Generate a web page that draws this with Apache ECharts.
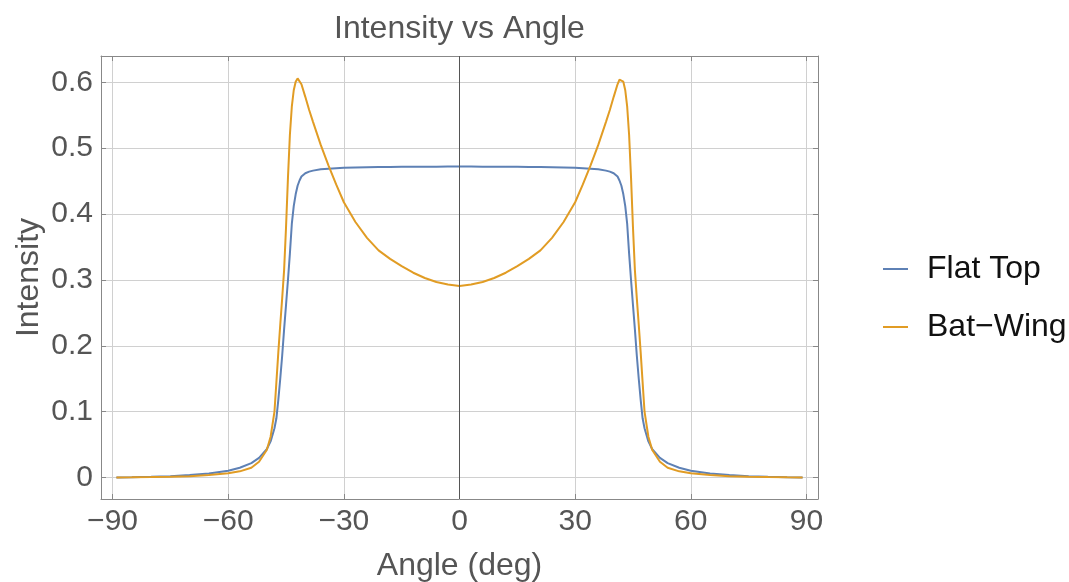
<!DOCTYPE html>
<html>
<head>
<meta charset="utf-8">
<title>Intensity vs Angle</title>
<script src="https://cdn.jsdelivr.net/npm/echarts@6/dist/echarts.min.js"></script>
<style>
  html, body { margin: 0; padding: 0; background: #fff; }
  #chart { width: 1069px; height: 582px; }
</style>
</head>
<body>
<div id="chart"></div>
<script>
// angle (deg)
const angles = [-89, -85, -80, -75, -70, -65, -60, -57, -54, -52, -50, -49, -48, -47.5, -47, -46.5, -46, -45.5, -45, -44.5, -44, -43.5, -43, -42.5, -42, -41.5, -41, -40, -39, -38, -36, -34, -32, -30, -27, -24, -21, -18, -15, -12, -9, -6, -3, 0,
  3, 6, 9, 12, 15, 18, 21, 24, 27, 30, 32, 34, 36, 38, 39, 40, 41, 41.5, 42, 42.5, 43, 43.5, 44, 44.5, 45, 45.5, 46, 46.5, 47, 47.5, 48, 49, 50, 52, 54, 57, 60, 65, 70, 75, 80, 85, 89]

const flatTop = [0.0003, 0.0007, 0.0013, 0.0022, 0.0038, 0.0062, 0.0105, 0.0150, 0.0220, 0.0300, 0.0430, 0.0550, 0.0750, 0.0900, 0.1180, 0.1500, 0.1850, 0.2250, 0.2620, 0.3000, 0.3400, 0.3850, 0.4120, 0.4300, 0.4430, 0.4510, 0.4570, 0.4620, 0.4645, 0.4660, 0.4680, 0.4690, 0.4697, 0.4702, 0.4707, 0.4711, 0.4714, 0.4716, 0.4718, 0.4719, 0.4720, 0.4720, 0.4721, 0.4721,
  0.4721, 0.4720, 0.4720, 0.4719, 0.4718, 0.4716, 0.4714, 0.4711, 0.4707, 0.4702, 0.4697, 0.4690, 0.4680, 0.4660, 0.4645, 0.4620, 0.4570, 0.4510, 0.4430, 0.4300, 0.4120, 0.3850, 0.3400, 0.3000, 0.2620, 0.2250, 0.1850, 0.1500, 0.1180, 0.0900, 0.0750, 0.0550, 0.0430, 0.0300, 0.0220, 0.0150, 0.0105, 0.0062, 0.0038, 0.0022, 0.0013, 0.0007, 0.0003]

const batWing = [0.0002, 0.0004, 0.0008, 0.0013, 0.0022, 0.0040, 0.0065, 0.0095, 0.0150, 0.0240, 0.0420, 0.0620, 0.1000, 0.1450, 0.1900, 0.2320, 0.2720, 0.3150, 0.3800, 0.4550, 0.5200, 0.5630, 0.5880, 0.6010, 0.6060, 0.6040, 0.5970, 0.5780, 0.5580, 0.5400, 0.5050, 0.4740, 0.4450, 0.4180, 0.3880, 0.3640, 0.3450, 0.3320, 0.3210, 0.3110, 0.3030, 0.2970, 0.2930, 0.2910,
  0.2930, 0.2970, 0.3030, 0.3110, 0.3210, 0.3320, 0.3450, 0.3640, 0.3880, 0.4180, 0.4450, 0.4740, 0.5050, 0.5400, 0.5580, 0.5780, 0.5970, 0.6040, 0.6060, 0.6010, 0.5880, 0.5630, 0.5200, 0.4550, 0.3800, 0.3150, 0.2720, 0.2320, 0.1900, 0.1450, 0.1000, 0.0620, 0.0420, 0.0240, 0.0150, 0.0095, 0.0065, 0.0040, 0.0022, 0.0013, 0.0008, 0.0004, 0.0002]

const xTicks = [-90, -60, -30, 0, 30, 60, 90]
const yTicks = [0, 0.1, 0.2, 0.3, 0.4, 0.5, 0.6]

const frameColor = '#888'
const gridColor = '#d0d0d0'
const textColor = '#555'
const font = 'Liberation Sans, Arial, sans-serif'

const chart = echarts.init(document.getElementById('chart'))

function pairs(ys) {
  return angles.map((a, i) => [a, ys[i]])
}

function frameAxis(extra) {
  return Object.assign({
    type: 'value',
    axisLine: { show: true, onZero: false, lineStyle: { color: frameColor, width: 1 } },
    axisTick: { show: true, inside: true, length: 5, lineStyle: { color: frameColor } },
    splitLine: { show: false }
  }, extra)
}

const option = {
  animation: false,
  title: {
    text: 'Intensity vs Angle',
    left: 334,
    top: 13,
    padding: 0,
    textStyle: { fontFamily: font, fontSize: 32, fontWeight: 'normal', color: textColor }
  },
  legend: {
    orient: 'vertical',
    left: 883,
    top: 253,
    icon: 'rect',
    itemWidth: 25,
    itemHeight: 2,
    itemGap: 26,
    padding: 0,
    textStyle: { fontFamily: font, fontSize: 32, color: '#111', padding: [0, 0, 0, 14] },
    data: ['Flat Top', 'Bat\u2212Wing']
  },
  grid: { left: 101, right: 251, top: 56, bottom: 83, outerBoundsMode: 'none' },
  xAxis: [
    frameAxis({
      min: -93,
      max: 93,
      position: 'bottom',
      name: 'Angle (deg)',
      nameLocation: 'middle',
      nameGap: 51,
      nameTextStyle: { fontFamily: font, fontSize: 32, color: textColor },
      axisTick: { show: true, inside: true, length: 5, customValues: xTicks, lineStyle: { color: frameColor } },
      axisLabel: {
        customValues: xTicks,
        margin: 8,
        fontFamily: font,
        fontSize: 30,
        color: textColor,
        formatter: v => (v < 0 ? '\u2212' + (-v) : String(v))
      },
      splitLine: { show: true, lineStyle: { color: gridColor, width: 1 } }
    }),
    frameAxis({
      min: -93,
      max: 93,
      position: 'top',
      axisTick: { show: true, inside: true, length: 5, customValues: xTicks, lineStyle: { color: frameColor } },
      axisLabel: { show: false }
    })
  ],
  yAxis: [
    frameAxis({
      min: -0.0325,
      max: 0.64,
      position: 'left',
      name: 'Intensity',
      nameLocation: 'middle',
      nameGap: 56,
      nameMoveOverlap: false,
      nameTextStyle: { fontFamily: font, fontSize: 32, color: textColor },
      axisTick: { show: true, inside: true, length: 5, customValues: yTicks, lineStyle: { color: frameColor } },
      axisLabel: {
        customValues: yTicks,
        margin: 8,
        fontFamily: font,
        fontSize: 30,
        color: textColor,
        formatter: v => (v === 0 ? '0' : v.toFixed(1))
      },
      splitLine: { show: true, lineStyle: { color: gridColor, width: 1 } }
    }),
    frameAxis({
      min: -0.0325,
      max: 0.64,
      position: 'right',
      axisTick: { show: true, inside: true, length: 5, customValues: yTicks, lineStyle: { color: frameColor } },
      axisLabel: { show: false }
    })
  ],
  series: [
    {
      name: 'Flat Top',
      type: 'line',
      symbol: 'none',
      data: pairs(flatTop),
      lineStyle: { color: '#5E81B5', width: 2 },
      itemStyle: { color: '#5E81B5' },
      markLine: {
        silent: true,
        symbol: ['none', 'none'],
        label: { show: false },
        lineStyle: { color: '#555', width: 1, type: 'solid' },
        data: [{ xAxis: 0 }]
      },
      z: 3
    },
    {
      name: 'Bat\u2212Wing',
      type: 'line',
      symbol: 'none',
      data: pairs(batWing),
      lineStyle: { color: '#E19C24', width: 2 },
      itemStyle: { color: '#E19C24' },
      z: 4
    }
  ]
}

chart.setOption(option)
</script>
</body>
</html>
